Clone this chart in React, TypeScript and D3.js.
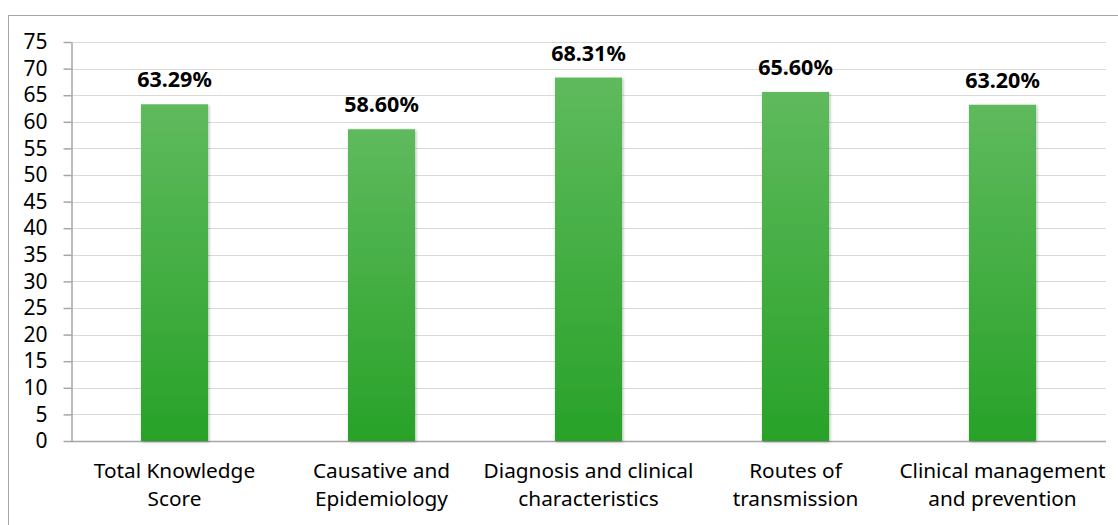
import React, { useRef, useEffect } from 'react';
import * as d3 from 'd3';

const categories: string[][] = [
  ['Total Knowledge', 'Score'],
  ['Causative and', 'Epidemiology'],
  ['Diagnosis and clinical', 'characteristics'],
  ['Routes of', 'transmission'],
  ['Clinical management', 'and prevention'],
];
const values = [63.29, 58.6, 68.31, 65.6, 63.2];
const valueLabels = ['63.29%', '58.60%', '68.31%', '65.60%', '63.20%'];
const yTicks = d3.range(0, 80, 5);

const W = 1118;
const H = 525;
const FONT = '"Noto Sans", "Open Sans", sans-serif';

const App: React.FC = () => {
  const svgRef = useRef<SVGSVGElement>(null);

  useEffect(() => {
    if (!svgRef.current) return;
    const svg = d3.select(svgRef.current);
    svg.selectAll('*').remove();

    const left = 71, right = 1106, top = 42, bottom = 441;

    const x = d3.scaleBand<number>()
      .domain(d3.range(values.length))
      .range([left, right])
      .paddingInner(0.676)
      .paddingOuter(0.338);
    const band = d3.scaleBand<number>().domain(d3.range(values.length)).range([left, right]);
    const y = d3.scaleLinear().domain([0, 75]).range([bottom, top]);

    const defs = svg.append('defs');
    const grad = defs.append('linearGradient')
      .attr('id', 'barGrad').attr('x1', 0).attr('y1', 0).attr('x2', 0).attr('y2', 1);
    grad.append('stop').attr('offset', '0%').attr('stop-color', '#5fba5d');
    grad.append('stop').attr('offset', '100%').attr('stop-color', '#28a228');
    const shadow = defs.append('filter').attr('id', 'shadow')
      .attr('x', '-20%').attr('y', '-10%').attr('width', '140%').attr('height', '120%');
    shadow.append('feDropShadow')
      .attr('dx', 1).attr('dy', 1).attr('stdDeviation', 1.5)
      .attr('flood-color', '#000').attr('flood-opacity', 0.3);

    // outer border
    svg.append('rect')
      .attr('x', 8.5).attr('y', 15.5).attr('width', 1120).attr('height', 520)
      .attr('fill', 'white').attr('stroke', '#a6a6a6').attr('stroke-width', 1);

    // gridlines
    svg.append('g').selectAll('line')
      .data(yTicks.filter(t => t > 0))
      .join('line')
      .attr('x1', left).attr('x2', right)
      .attr('y1', d => Math.round(y(d)) + 0.5).attr('y2', d => Math.round(y(d)) + 0.5)
      .attr('stroke', '#d9d9d9').attr('stroke-width', 1);

    // y axis
    const yAxis = svg.append('g').attr('transform', `translate(${left + 0.5},0)`)
      .call(d3.axisLeft(y).tickValues(yTicks).tickSize(8).tickPadding(16).tickSizeOuter(0));
    yAxis.select('.domain').attr('stroke', '#a6a6a6').attr('stroke-width', 1.5);
    yAxis.selectAll('.tick line').attr('stroke', '#a6a6a6').attr('stroke-width', 1.5);
    yAxis.selectAll('.tick text')
      .attr('font-family', FONT).attr('font-size', 21).attr('fill', '#000');

    // x axis baseline
    svg.append('line')
      .attr('x1', left).attr('x2', right)
      .attr('y1', bottom + 0.5).attr('y2', bottom + 0.5)
      .attr('stroke', '#a6a6a6').attr('stroke-width', 1.5);

    // bars
    svg.append('g').selectAll('rect')
      .data(values)
      .join('rect')
      .attr('x', (_, i) => x(i)!)
      .attr('width', x.bandwidth())
      .attr('y', d => y(d))
      .attr('height', d => bottom - y(d))
      .attr('fill', 'url(#barGrad)')
      .attr('filter', 'url(#shadow)');

    // value labels
    svg.append('g').selectAll('text')
      .data(values)
      .join('text')
      .attr('x', (_, i) => x(i)! + x.bandwidth() / 2)
      .attr('y', d => y(d) - 17)
      .attr('text-anchor', 'middle')
      .attr('font-family', FONT).attr('font-weight', 'bold').attr('font-size', 21.5)
      .attr('fill', '#000')
      .text((_, i) => valueLabels[i]);

    // category labels
    const cat = svg.append('g').selectAll('text')
      .data(categories)
      .join('text')
      .attr('x', (_, i) => band(i)! + band.bandwidth() / 2)
      .attr('y', 478)
      .attr('text-anchor', 'middle')
      .attr('font-family', FONT).attr('font-size', 20.8).attr('fill', '#000');
    cat.selectAll('tspan')
      .data(d => d)
      .join('tspan')
      .attr('x', function () { return (this.parentNode as SVGTextElement).getAttribute('x'); })
      .attr('dy', (_, j) => (j === 0 ? 0 : 28))
      .text(d => d);
  }, []);

  return (
    <div style={{ width: W, height: H, position: 'absolute', top: 0, left: 0, overflow: 'hidden', background: 'white' }}>
      <svg ref={svgRef} width={W} height={H} style={{ display: 'block' }} />
    </div>
  );
};

export default App;
